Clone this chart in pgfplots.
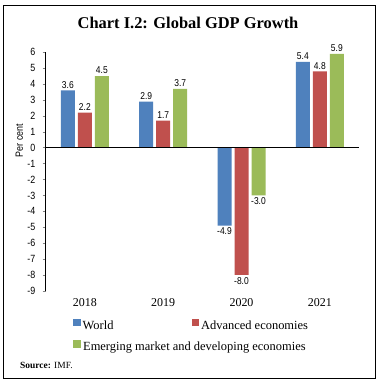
\documentclass[border=0pt]{standalone}
\usepackage{pgfplots}
\pgfplotsset{compat=1.18}
\usepackage{fontspec}
\setmainfont{Liberation Serif}
\newfontfamily\tickfont[FakeStretch=0.85]{Liberation Sans}
\definecolor{cBlue}{HTML}{4F81BD}
\definecolor{cRed}{HTML}{C0504D}
\definecolor{cGreen}{HTML}{9BBB59}
\begin{document}
\begin{tikzpicture}[x=1bp,y=1bp]
\fill[white] (0,0) rectangle (380,-386);
\draw[line width=1bp] (3,-5) rectangle (375,-378);
\node[anchor=base, font=\bfseries\fontsize{16.5}{19}\selectfont] at (188,-28.7) {Chart I.2: Global GDP Growth};
\begin{axis}[
  at={(45.7bp,-290.8bp)}, anchor=south west, scale only axis,
  width=313.3bp, height=238.5bp,
  ymin=-9, ymax=6, xmin=-0.5, xmax=3.5,
  ybar=3bp, bar width=14bp,
  axis y line*=left, axis x line*=bottom,
  x axis line style={draw=none},
  xtick={0,1,2,3}, xticklabels={2018,2019,2020,2021},
  x tick style={draw=none},
  xticklabel style={font=\fontsize{12}{14}\selectfont, inner sep=0pt, yshift=-4bp},
  ytick={-9,-8,...,6},
  tick align=outside, major tick length=3.2bp,
  y axis line style={line width=0.6bp},
  y tick style={line width=0.6bp},
  yticklabel style={font=\tickfont\fontsize{10.5}{12}\selectfont, inner sep=0pt, xshift=-7bp},
  /pgf/number format/assume math mode=true,
  ylabel={Per cent},
  ylabel style={font=\tickfont\fontsize{10.5}{12}\selectfont, at={(axis description cs:-0.084,0.63)}, anchor=center},
  nodes near coords,
  nodes near coords style={font=\tickfont\fontsize{10}{11}\selectfont,
    /pgf/number format/fixed, /pgf/number format/precision=1,
    /pgf/number format/fixed zerofill, inner sep=2bp},
  legend columns=2,
  legend cell align=left,
  legend style={at={(0.087,-0.117)}, anchor=north west, draw=none, fill=none,
    font=\fontsize{12.5}{14}\selectfont, inner sep=0pt,
    nodes={inner sep=0pt, text height=9bp, text depth=3bp},
    row sep=8bp, /tikz/every odd column/.append style={column sep=2bp}},
  legend image code/.code={\fill[#1,draw=none] (0bp,0bp) rectangle (7.5bp,7.5bp);},
]
\addplot[fill=cBlue, draw=none] coordinates {(0,3.6) (1,2.9) (2,-4.9) (3,5.4)};
\addplot[fill=cRed, draw=none] coordinates {(0,2.2) (1,1.7) (2,-8.0) (3,4.8)};
\addplot[fill=cGreen, draw=none] coordinates {(0,4.5) (1,3.7) (2,-3.0) (3,5.9)};
\legend{\makebox[109bp][l]{World}, Advanced economies, \makebox[0pt][l]{Emerging market and developing economies}}
\draw[line width=0.8bp] (axis cs:-0.5,0) -- (axis cs:3.5,0);
\end{axis}
\node[anchor=west, inner sep=0pt, font=\fontsize{9.5}{10}\selectfont] at (20,-365) {\textbf{Source:} IMF.};
\end{tikzpicture}
\end{document}
